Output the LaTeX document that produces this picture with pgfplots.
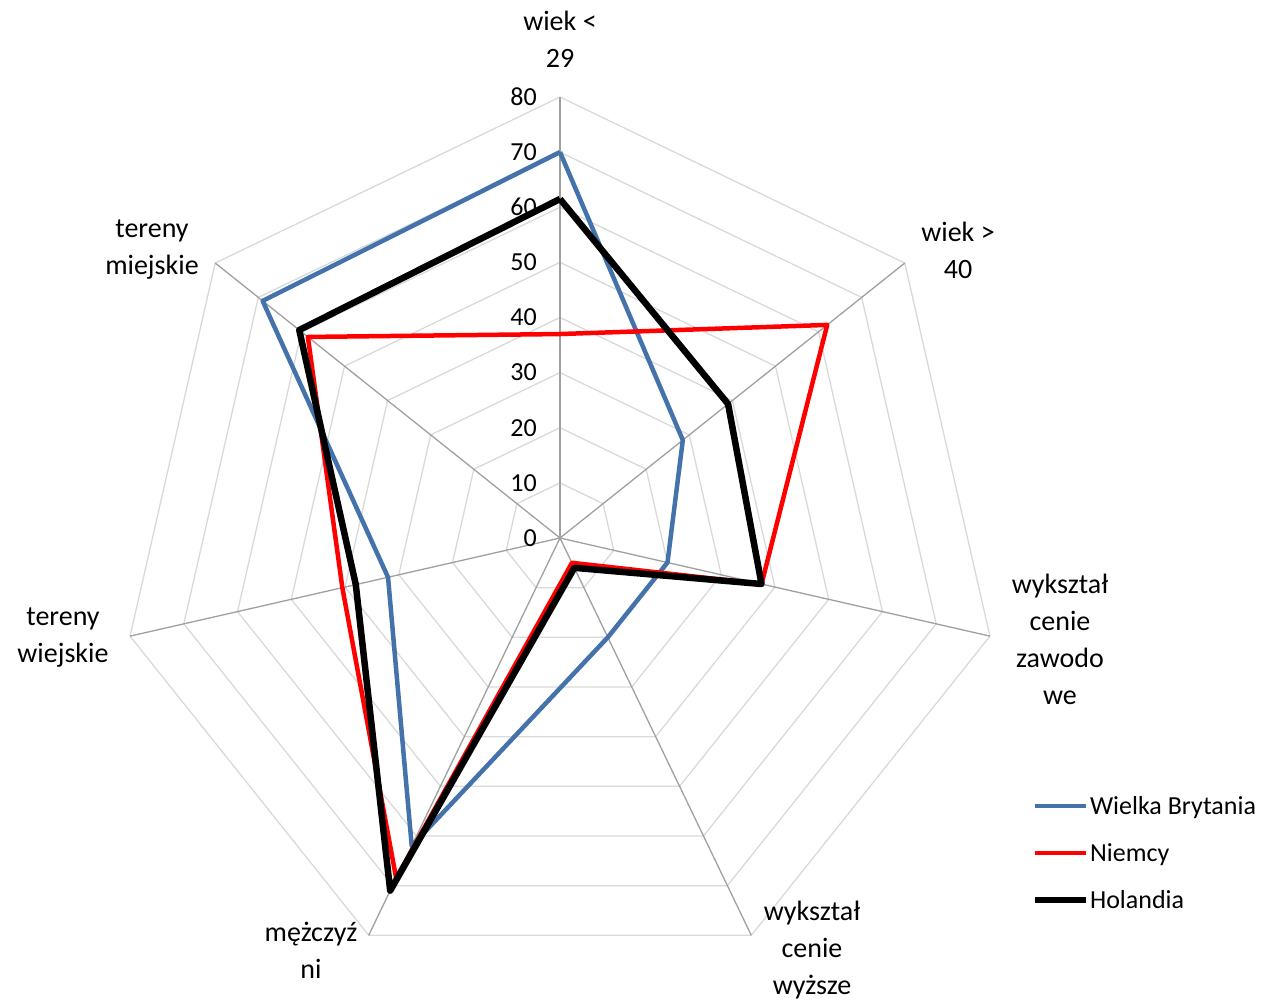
\documentclass[border=0pt]{standalone}
\usepackage{fontspec}
\setmainfont{Carlito}
\usepackage{pgfplots}
\pgfplotsset{compat=1.18}
\usepgfplotslibrary{polar}

\definecolor{gbblue}{RGB}{68,114,170}
\definecolor{gridc}{RGB}{217,217,217}
\definecolor{spokec}{RGB}{160,160,160}

\begin{document}
\begin{tikzpicture}
\path[use as bounding box] (0pt,0pt) rectangle (1261pt,-1000pt);
\begin{polaraxis}[
    at={(560pt,-538pt)}, anchor=center,
    scale only axis, width=882pt, height=882pt,
    ymin=0, ymax=80, xmin=0, xmax=360,
    hide axis, clip=false,
    legend cell align=left,
    legend style={at={(axis description cs:1.035,0.208)}, anchor=north west,
        draw=none, fill=none, inner sep=0pt, font=\fontsize{26}{30}\selectfont,
        row sep=26.5pt, nodes={inner sep=0.5pt}},
    legend image code/.code={\draw[#1] (0pt,0pt) -- (51pt,0pt);},
]
% siatka
\pgfplotsinvokeforeach{10,20,...,80}{
  \addplot[gridc, line width=1.3pt, forget plot] coordinates
    {(90,#1) (38.571,#1) (347.143,#1) (295.714,#1) (244.286,#1) (192.857,#1) (141.429,#1) (90,#1)};
}
\pgfplotsinvokeforeach{90,38.571,347.143,295.714,244.286,192.857,141.429}{
  \addplot[spokec, line width=1.3pt, forget plot] coordinates {(#1,0) (#1,80)};
}
\pgfplotsinvokeforeach{0,10,...,80}{
  \node[anchor=east, inner sep=0pt, font=\fontsize{26}{30}\selectfont] at (axis cs:90,#1) [xshift=-23pt] {#1};
}
% dane
\addplot[gbblue, line width=4.5pt, line join=round] coordinates
  {(90,70) (38.571,28.5) (347.143,20) (295.714,20) (244.286,62) (192.857,32) (141.429,69) (90,70)};
\addlegendentry{Wielka Brytania}
\addplot[red, line width=4.5pt, line join=round] coordinates
  {(90,37) (38.571,62) (347.143,37.5) (295.714,5) (244.286,68.5) (192.857,40.5) (141.429,58.5) (90,37)};
\addlegendentry{Niemcy}
\addplot[black, line width=6.5pt, line join=round] coordinates
  {(90,61.5) (38.571,39) (347.143,37.5) (295.714,6) (244.286,71) (192.857,38) (141.429,60.5) (90,61.5)};
\addlegendentry{Holandia}
\end{polaraxis}
\begin{scope}[every node/.style={align=center, font=\fontsize{28}{37}\selectfont, inner sep=0pt}]
\node at (560pt,-39pt) {wiek <\\29};
\node at (958pt,-250pt) {wiek >\\40};
\node at (1060pt,-639pt) {wykształ\\cenie\\zawodo\\we};
\node at (812pt,-950pt) {wykształ\\cenie\\wyższe};
\node at (311pt,-950pt) {mężczyź\\ni};
\node at (63pt,-638pt) {tereny\\wiejskie};
\node at (152pt,-250pt) {tereny\\miejskie};
\end{scope}
\end{tikzpicture}
\end{document}
